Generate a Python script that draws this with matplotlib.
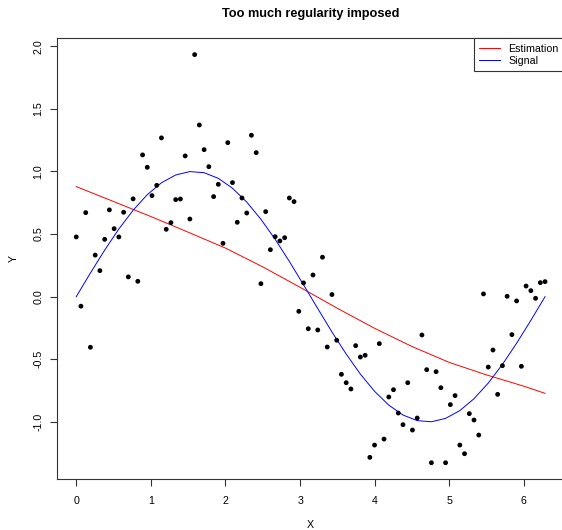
import matplotlib
matplotlib.use('Agg')
import matplotlib.pyplot as plt

plt.rcParams['font.family'] = ['Liberation Sans', 'DejaVu Sans']
plt.rcParams['axes.unicode_minus'] = False

# observed points (100 equally spaced x over 0..2pi)
x = [0.000, 0.063, 0.127, 0.190, 0.254, 0.317, 0.381, 0.444, 0.508, 0.571,
     0.635, 0.698, 0.762, 0.825, 0.889, 0.952, 1.015, 1.079, 1.142, 1.206,
     1.269, 1.333, 1.396, 1.460, 1.523, 1.587, 1.650, 1.714, 1.777, 1.841,
     1.904, 1.967, 2.031, 2.094, 2.158, 2.221, 2.285, 2.348, 2.412, 2.475,
     2.539, 2.602, 2.666, 2.729, 2.793, 2.856, 2.919, 2.983, 3.046, 3.110,
     3.173, 3.237, 3.300, 3.364, 3.427, 3.491, 3.554, 3.618, 3.681, 3.745,
     3.808, 3.872, 3.935, 3.998, 4.062, 4.125, 4.189, 4.252, 4.316, 4.379,
     4.443, 4.506, 4.570, 4.633, 4.697, 4.760, 4.823, 4.887, 4.950, 5.014,
     5.077, 5.141, 5.204, 5.268, 5.331, 5.395, 5.458, 5.522, 5.585, 5.648,
     5.712, 5.775, 5.839, 5.902, 5.966, 6.029, 6.093, 6.156, 6.220, 6.283]
y = [0.477, -0.076, 0.671, -0.404, 0.332, 0.208, 0.458, 0.693, 0.543, 0.477,
     0.674, 0.158, 0.781, 0.123, 1.132, 1.033, 0.807, 0.889, 1.268, 0.538,
     0.591, 0.775, 0.780, 1.124, 0.620, 1.933, 1.371, 1.174, 1.038, 0.799,
     0.897, 0.426, 1.230, 0.911, 0.594, 0.788, 0.668, 1.289, 1.150, 0.104,
     0.679, 0.375, 0.479, 0.445, 0.471, 0.788, 0.759, -0.117, 0.110, -0.256,
     0.173, -0.266, 0.315, -0.402, 0.017, -0.348, -0.620, -0.687, -0.737, -0.391,
     -0.482, -0.468, -1.283, -1.185, -0.375, -1.137, -0.801, -0.743, -0.929, -1.022,
     -0.687, -1.065, -0.969, -0.306, -0.583, -1.326, -0.599, -0.727, -1.326, -0.862,
     -0.790, -1.185, -1.254, -0.934, -0.985, -1.105, 0.022, -0.562, -0.426, -0.780,
     -0.551, 0.003, -0.303, -0.034, -0.556, 0.085, 0.048, -0.013, 0.112, 0.120]

# smooth estimate (red)
x_est = [0, 0.5, 1.0, 1.5, 2.0, 2.5, 3.0, 3.5, 4.0, 4.5, 5.0, 5.5, 6.0, 6.283]
est = [0.879, 0.760, 0.640, 0.515, 0.388, 0.238, 0.075, -0.093, -0.253,
       -0.398, -0.525, -0.625, -0.715, -0.772]

# true signal (blue), at every third x
signal = [0.0, 0.1893, 0.3717, 0.5406, 0.6901, 0.8146, 0.9096, 0.9718, 0.9989,
          0.9898, 0.9450, 0.8660, 0.7557, 0.6182, 0.4582, 0.2817, 0.0951,
          -0.0951, -0.2817, -0.4582, -0.6182, -0.7557, -0.8660, -0.9450,
          -0.9898, -0.9989, -0.9718, -0.9096, -0.8146, -0.6901, -0.5406,
          -0.3717, -0.1893, 0.0]
x_sig = x[::3]

yticks = [-1.0, -0.5, 0.0, 0.5, 1.0, 1.5, 2.0]

fig = plt.figure(figsize=(5.62, 5.30), dpi=100)
ax = fig.add_axes([0.1023, 0.0962, 0.9009, 0.8315])

ax.scatter(x, y, s=12, c='black', edgecolors='none', zorder=3)
ax.plot(x_est, est, color='red', lw=0.7, label='Estimation')
ax.plot(x_sig, signal, color='blue', lw=0.7, label='Signal')

ax.set_xlim(-0.2513, 6.5345)
ax.set_ylim(-1.456, 2.063)
ax.set_xticks(range(7))
ax.set_yticks(yticks)
ax.set_yticklabels(['%.1f' % v for v in yticks], rotation=90, va='center')
ax.tick_params(axis='both', labelsize=7.7, length=5, width=0.8, color='#333333')
ax.tick_params(axis='x', pad=7)
ax.tick_params(axis='y', pad=5)
for s in ax.spines.values():
    s.set_linewidth(0.8)
    s.set_color('#333333')

ax.set_xlabel('X', fontsize=7.7, labelpad=10)
ax.set_ylabel('Y', fontsize=7.7, labelpad=11)
ax.set_title('Too much regularity imposed', fontsize=9.2, fontweight='bold', pad=15)

leg = ax.legend(loc='upper right', bbox_to_anchor=(1, 1), borderaxespad=0,
                fontsize=7.7, fancybox=False, edgecolor='#333333', framealpha=1,
                borderpad=0.5, labelspacing=0.2, handlelength=1.9, handletextpad=0.8)
leg.get_frame().set_linewidth(0.8)

fig.savefig('out.png', dpi=100)
